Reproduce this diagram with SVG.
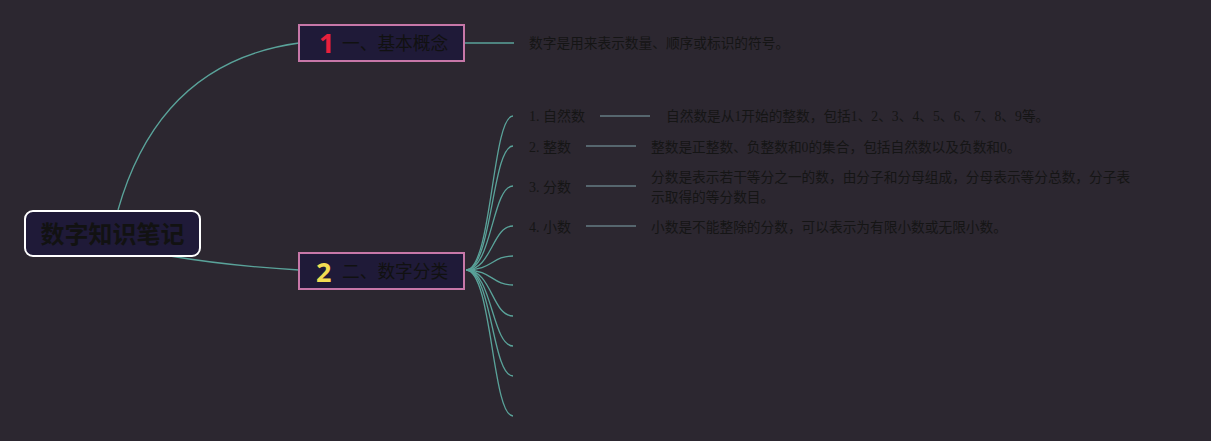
<svg xmlns="http://www.w3.org/2000/svg" width="1211" height="441" viewBox="0 0 1211 441">
<style>
.conn{fill:none;stroke:#5aa39a;stroke-width:1.3}
.sub{fill:none;stroke:#56666e;stroke-width:2}
.topic{fill:#1f1a38;stroke:#c777a8;stroke-width:2}
.tt{font-family:"Noto Sans CJK SC","Noto Sans",sans-serif;font-size:17.7px;fill:#111111}
.num{font-family:"Noto Sans","Liberation Sans",sans-serif;font-size:27px;font-weight:bold}
.lbl{font-family:"Liberation Serif","Noto Sans CJK SC",serif;font-size:14px;fill:#151515}
.txt{font-family:"Liberation Serif","Noto Sans CJK SC",serif;font-size:13.7px;fill:#151515}
</style>
<rect width="1211" height="441" fill="#2c2730"/>
<g id="connectors">
<path class="conn" d="M118,210 Q160,62 299,43"/>
<path class="conn" d="M170,256 Q230,266 299,270"/>
<path class="conn" d="M464,43 H514"/>
<path class="conn" d="M466,270 C492,270 492,116 513,116"/>
<path class="conn" d="M466,270 C492,270 492,146 513,146"/>
<path class="conn" d="M466,270 C492,270 492,186 513,186"/>
<path class="conn" d="M466,270 C492,270 492,226 513,226"/>
<path class="conn" d="M466,270 C492,270 492,256 513,256"/>
<path class="conn" d="M466,270 C492,270 492,285 513,285"/>
<path class="conn" d="M466,270 C492,270 492,316 513,316"/>
<path class="conn" d="M466,270 C492,270 492,346 513,346"/>
<path class="conn" d="M466,270 C492,270 492,376 513,376"/>
<path class="conn" d="M466,270 C492,270 492,416 513,416"/>
<path class="sub" d="M600,116 H650"/>
<path class="sub" d="M586,146 H636"/>
<path class="sub" d="M586,186 H636"/>
<path class="sub" d="M586,226 H636"/>
</g>
<g id="root">
<rect x="25" y="211" width="175" height="45" rx="8" fill="#1f1a38" stroke="#ffffff" stroke-width="2"/>
<text x="112.5" y="243" text-anchor="middle" font-family="Noto Sans CJK SC,sans-serif" font-size="24" font-weight="bold" fill="#121212">数字知识笔记</text>
</g>
<g id="topic1">
<rect class="topic" x="299" y="25" width="165" height="36"/>
<text class="num" x="319" y="53" fill="#e8203c">1</text>
<text class="tt" x="342" y="50">一、基本概念</text>
</g>
<g id="topic1-note">
<text class="txt" x="529" y="48">数字是用来表示数量、顺序或标识的符号。</text>
</g>
<g id="topic2">
<rect class="topic" x="299" y="253" width="165" height="36"/>
<text class="num" x="316" y="282" fill="#f2dc52">2</text>
<text class="tt" x="342" y="278">二、数字分类</text>
</g>
<g id="sub1">
<text class="lbl" x="529" y="121">1. 自然数</text>
<text class="txt" x="666" y="121">自然数是从1开始的整数，包括1、2、3、4、5、6、7、8、9等。</text>
</g>
<g id="sub2">
<text class="lbl" x="529" y="152">2. 整数</text>
<text class="txt" x="651" y="152">整数是正整数、负整数和0的集合，包括自然数以及负数和0。</text>
</g>
<g id="sub3">
<text class="lbl" x="529" y="192">3. 分数</text>
<text class="txt" x="651" y="182">分数是表示若干等分之一的数，由分子和分母组成，分母表示等分总数，分子表</text>
<text class="txt" x="651" y="202">示取得的等分数目。</text>
</g>
<g id="sub4">
<text class="lbl" x="529" y="232">4. 小数</text>
<text class="txt" x="651" y="232">小数是不能整除的分数，可以表示为有限小数或无限小数。</text>
</g>
</svg>
